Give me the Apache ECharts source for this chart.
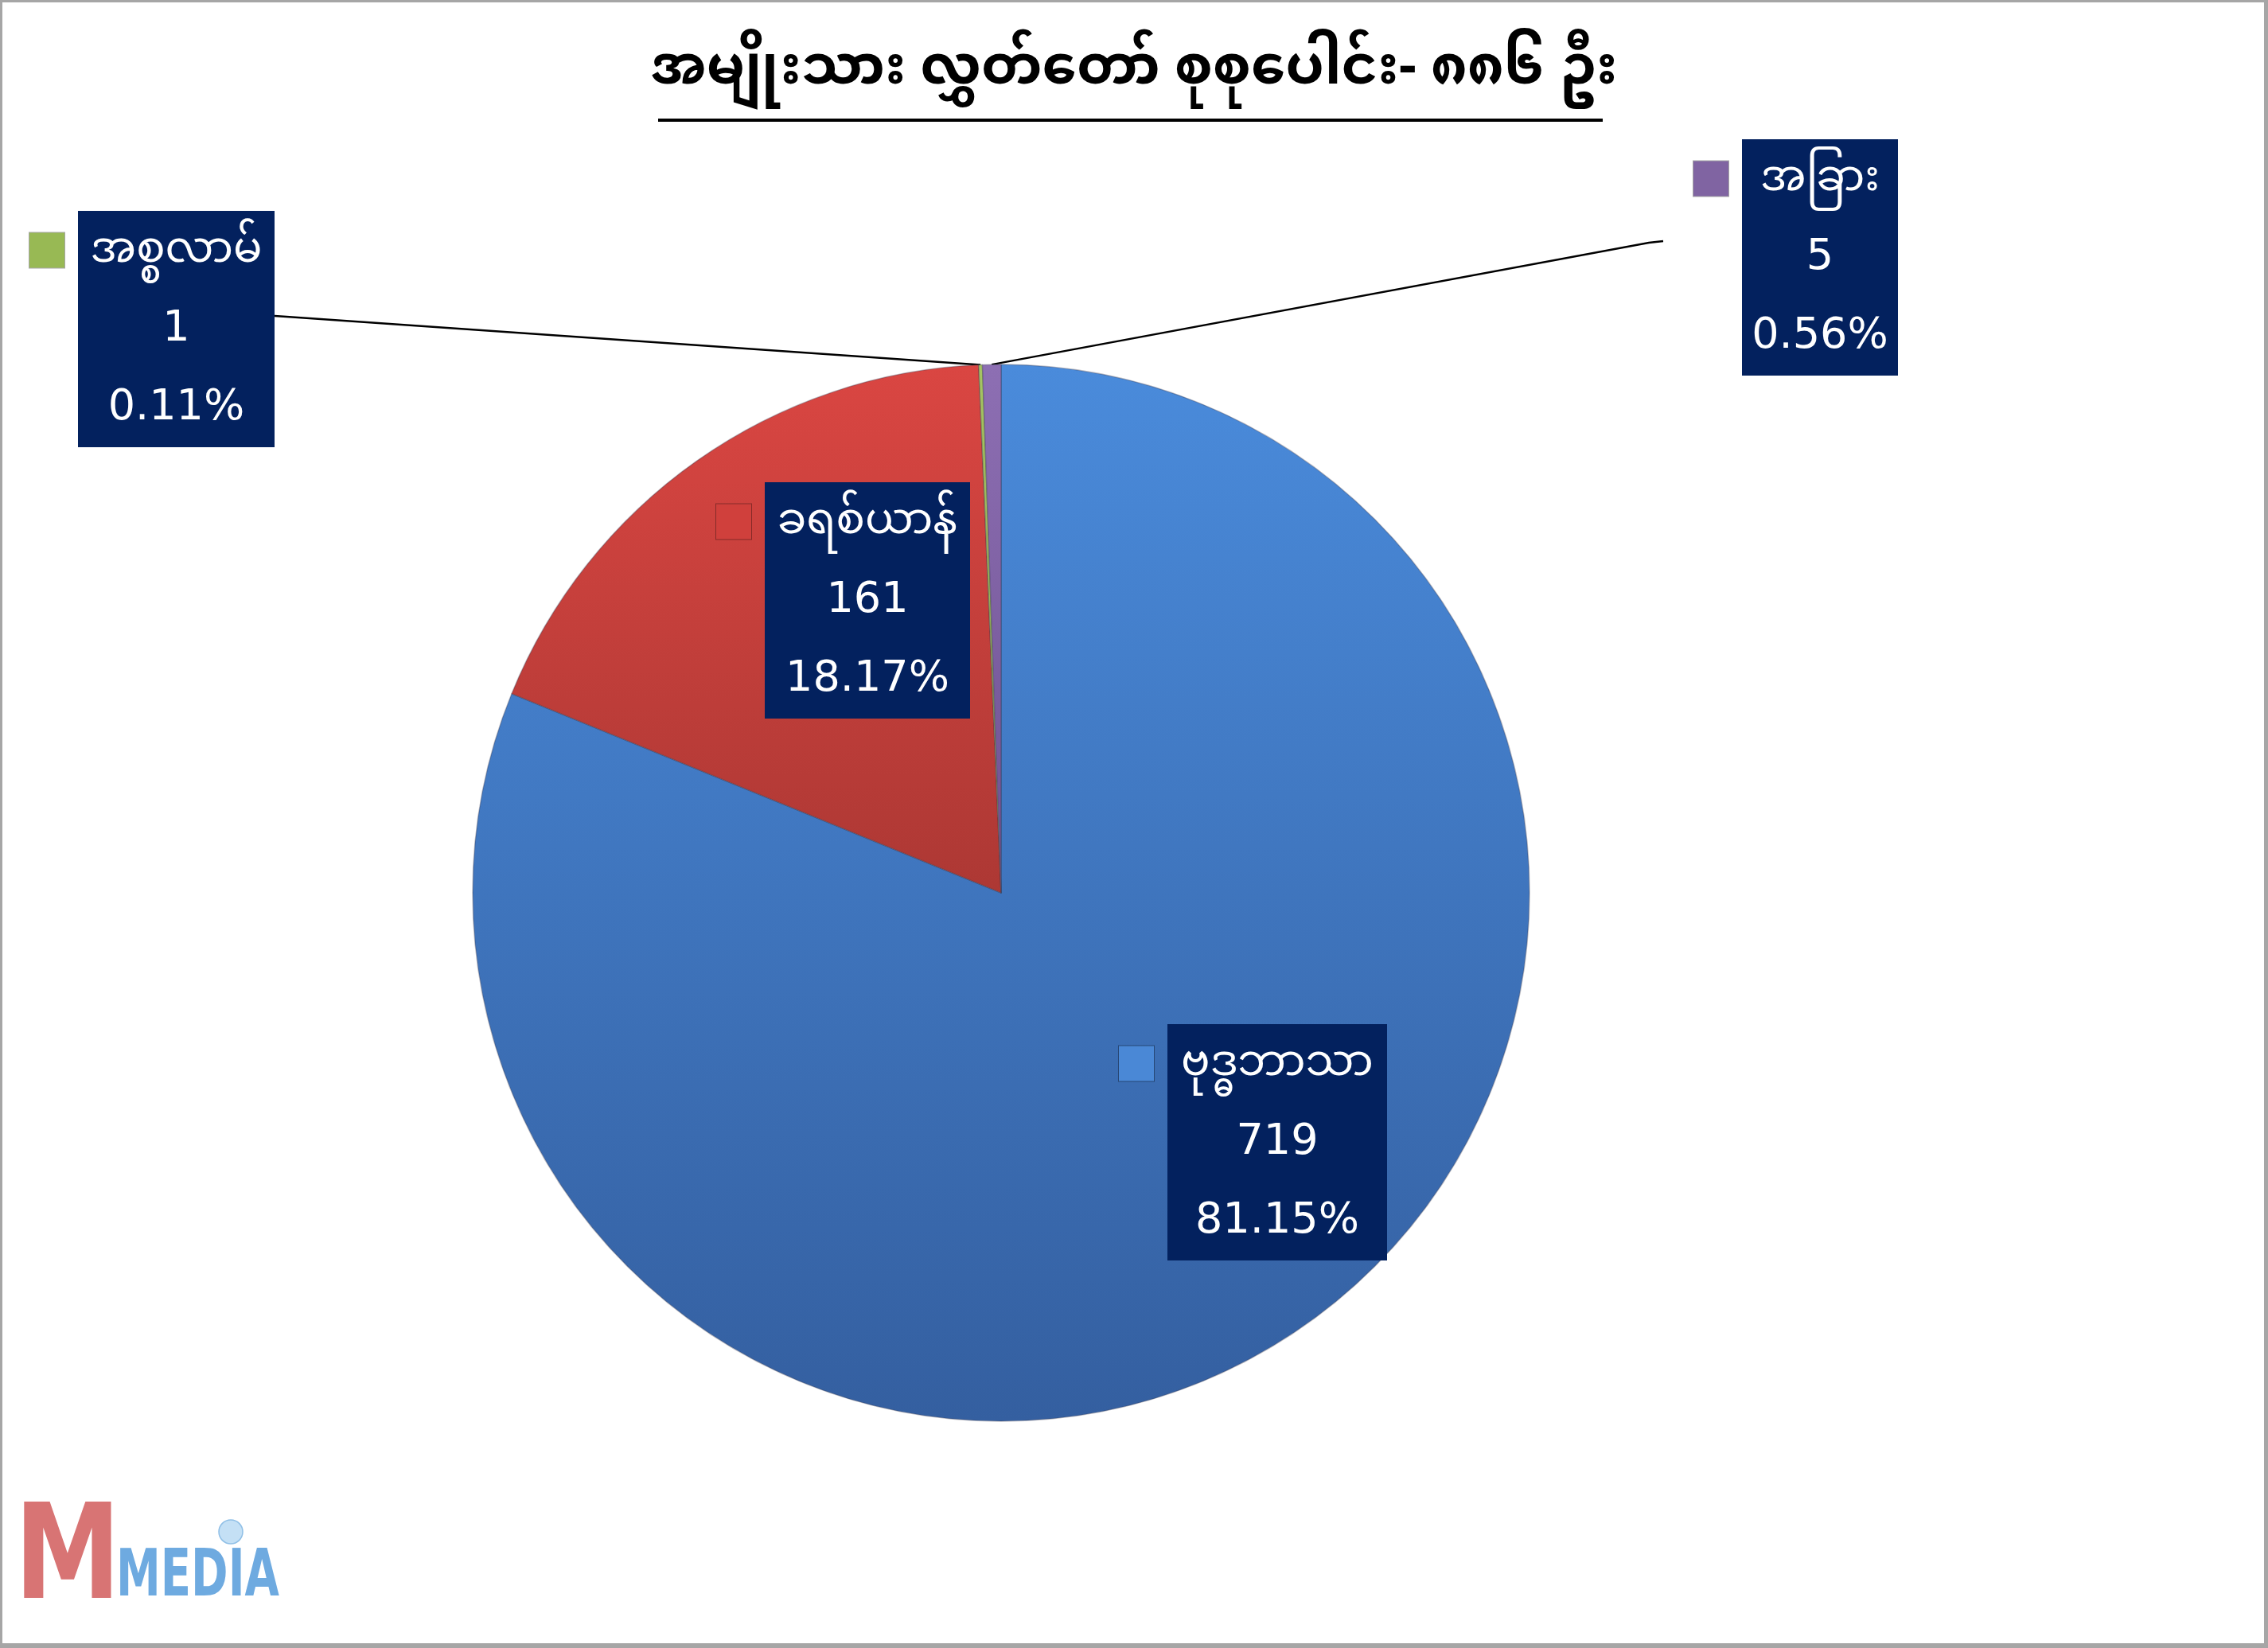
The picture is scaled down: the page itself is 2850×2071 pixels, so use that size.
<!DOCTYPE html>
<html><head><meta charset="utf-8">
<script src="https://cdn.jsdelivr.net/npm/echarts@6/dist/echarts.min.js"></script>
<style>
html,body{margin:0;padding:0;background:#fff;}
#c{position:absolute;left:0;top:0;width:2850px;height:2071px;}
#frame{position:absolute;left:0;top:0;width:2850px;height:2071px;box-sizing:border-box;border:3px solid #a6a6a6;border-right-width:5px;border-bottom-width:6px;pointer-events:none;}
</style></head>
<body><div id="c"></div><div id="frame"></div>
<script>
// ---- data ----
const titleText = 'အမျိုးသား လွှတ်တော် စုစုပေါင်း- ၈၈၆ ဦး';
const categories = ['ဗုဒ္ဓဘာသာ', 'ခရစ်ယာန်', 'အစ္စလာမ်', 'အခြား'];
const values = [719, 161, 1, 5];

// ---- styling ----
const sliceTop = ['#4a8bdb', '#da4642', '#a6c463', '#8d6fb3'];
const sliceBottom = ['#345fa0', '#ad3834', '#86a348', '#6e5191'];
const keyColor = ['#4a88d6', '#d0403c', '#98b954', '#8064a2'];
const boxWidth = [276, 258, 247, 196];
const labelPos = [[1406, 1287], [900, 606], [37, 265], [2128, 175]];
const lineEnd = [null, null, [[360, 398], [345, 397]], [[2072, 305], [2090, 303]]];
const labelFont = '"DejaVu Sans", "Noto Sans Myanmar", "Padauk", "Myanmar Text", sans-serif';

const CX = 1258, CY = 1122, R = 664;
const total = values.reduce((a, b) => a + b, 0);

function edgePoint(i) {
  let cum = 0;
  for (let k = 0; k < i; k++) cum += values[k];
  const mid = (cum + values[i] / 2) / total * Math.PI * 2; // clockwise from 12 o'clock
  return [CX + R * Math.sin(mid), CY - R * Math.cos(mid)];
}

const data = categories.map((name, i) => {
  const w = boxWidth[i];
  const box = {
    width: w, height: 99, lineHeight: 99, backgroundColor: '#03215e', color: '#ffffff',
    align: 'center', verticalAlign: 'middle', fontSize: 54, fontFamily: labelFont
  };
  const outside = lineEnd[i] !== null;
  return {
    name: name,
    value: values[i],
    itemStyle: {
      color: new echarts.graphic.LinearGradient(0, 0, 0, 1, [
        { offset: 0, color: sliceTop[i] }, { offset: 1, color: sliceBottom[i] }
      ])
    },
    label: {
      show: true,
      position: outside ? 'outside' : 'inside',
      rich: {
        sq: { width: 44, height: 44, backgroundColor: keyColor[i], borderColor: 'rgba(0,0,0,0.35)', borderWidth: 1, verticalAlign: 'middle' },
        gp: { width: 17, height: 99 },
        sp: { width: 61, height: 99 },
        nm: box, v: box, p: box
      }
    },
    labelLine: { show: outside, lineStyle: { color: '#000', width: 2.5 } }
  };
});

const logoFont = '"DejaVu Sans Condensed", "Liberation Sans Narrow", "DejaVu Sans", sans-serif';
const chart = echarts.init(document.getElementById('c'), null, { renderer: 'canvas' });
chart.setOption({
  backgroundColor: '#ffffff',
  animation: false,
  title: {
    text: titleText,
    left: 'center',
    top: 58,
    textStyle: { fontSize: 69, fontWeight: 'bold', color: '#000', fontFamily: '"Noto Sans Myanmar", "Padauk", "Myanmar Text", sans-serif' }
  },
  graphic: [
    { type: 'rect', shape: { x: 827, y: 149, width: 1187, height: 4 }, style: { fill: '#000' } },
    { type: 'text', x: 18, y: 2048, scaleX: 0.9, style: { text: 'M', fontSize: 166, fontWeight: 'bold', verticalAlign: 'bottom', fill: '#d87474', fontFamily: logoFont } },
    { type: 'text', x: 146, y: 2025, scaleX: 0.76, style: { text: 'MEDIA', fontSize: 82, fontWeight: 'bold', verticalAlign: 'bottom', fill: '#6eaae0', fontFamily: logoFont } },
    { type: 'circle', shape: { cx: 290, cy: 1925, r: 15 }, style: { fill: '#c4e0f5', stroke: '#8fbfe6', lineWidth: 1.5 } }
  ],
  series: [{
    type: 'pie',
    center: [CX, CY],
    radius: R,
    startAngle: 90,
    clockwise: true,
    avoidLabelOverlap: false,
    minShowLabelAngle: 0,
    itemStyle: { borderColor: 'rgba(60,60,80,0.35)', borderWidth: 1.5 },
    emphasis: { disabled: true },
    label: {
      formatter: function (p) {
        const pct = (p.value / total * 100).toFixed(2);
        return '{sq|}{gp|}{nm|' + p.name + '}\n{sp|}{v|' + p.value + '}\n{sp|}{p|' + pct + '%}';
      }
    },
    labelLayout: function (p) {
      const i = p.dataIndex;
      const res = { x: labelPos[i][0], y: labelPos[i][1], align: 'left', verticalAlign: 'top' };
      if (lineEnd[i]) {
        res.labelLinePoints = [edgePoint(i), lineEnd[i][0], lineEnd[i][1]];
      }
      return res;
    },
    data: data
  }]
});
</script>
</body></html>
